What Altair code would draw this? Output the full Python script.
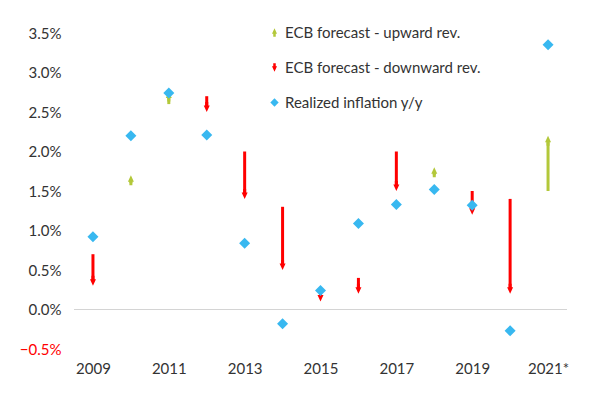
import altair as alt
import pandas as pd

years = ["2009", "2010", "2011", "2012", "2013", "2014", "2015",
         "2016", "2017", "2018", "2019", "2020", "2021*"]
realized = [0.92, 2.20, 2.74, 2.21, 0.84, -0.18, 0.24, 1.09, 1.33, 1.52, 1.32, -0.27, 3.35]
forecast_old = [0.70, 1.60, 2.60, 2.70, 2.00, 1.30, 0.25, 0.40, 2.00, 1.70, 1.50, 1.40, 1.50]
forecast_new = [0.30, 1.70, 2.76, 2.50, 1.40, 0.50, 0.10, 0.20, 1.50, 1.80, 1.20, 0.20, 2.20]
y_ticks = [-0.5, 0.0, 0.5, 1.0, 1.5, 2.0, 2.5, 3.0, 3.5]

UP = "ECB forecast - upward rev."
DOWN = "ECB forecast - downward rev."
REAL = "Realized inflation y/y"
series = [UP, DOWN, REAL]

GREEN = "#b3c83a"
RED = "#ff0000"
BLUE = "#38b8f0"

# arrow symbols: shaft + head, tip at +/-1
UP_PATH = "M0,-1L0.6,0.3L0.3,0.3L0.3,1L-0.3,1L-0.3,0.3L-0.6,0.3Z"
DOWN_PATH = "M0,1L0.6,-0.3L0.3,-0.3L0.3,-1L-0.3,-1L-0.3,-0.3L-0.6,-0.3Z"

rev = pd.DataFrame({"year": years, "start": forecast_old, "end": forecast_new})
rev["series"] = [UP if e > s else DOWN for s, e in zip(forecast_old, forecast_new)]
real = pd.DataFrame({"year": years, "value": realized, "series": REAL})
zero = pd.DataFrame({"y": [0.0]})

FONT = "Lato"
x = alt.X(
    "year:O", sort=years, title=None,
    scale=alt.Scale(type="point", domain=years, padding=0.5),
    axis=alt.Axis(values=years[::2], labelAngle=0, domain=False, ticks=False,
                  labelPadding=12, labelFontSize=15, labelColor="#333333", labelFont=FONT),
)
yscale = alt.Scale(domain=[-0.5, 3.5], nice=False, zero=False)
yaxis = alt.Axis(
    values=y_ticks,
    labelExpr="format(datum.value, '.1f') + '%'",
    domain=False, ticks=False, grid=False, labelPadding=13,
    labelFontSize=15, labelFont=FONT, labelOverlap=False,
    labelColor={"condition": {"test": "datum.value < 0", "value": RED}, "value": "#333333"},
)


def ycol(field):
    return alt.Y(field, scale=yscale, axis=yaxis, title=None)


color = alt.Color("series:N", title=None, scale=alt.Scale(domain=series, range=[GREEN, RED, BLUE]))
shape = alt.Shape("series:N", title=None,
                  scale=alt.Scale(domain=series, range=[UP_PATH, DOWN_PATH, "diamond"]))

zero_line = alt.Chart(zero).mark_rule(color="#d4d4d4", strokeWidth=1).encode(y=ycol("y:Q"))

up = alt.Chart(rev).transform_filter("datum.end > datum.start")
down = alt.Chart(rev).transform_filter("datum.end < datum.start")

up_shaft = up.mark_rule(strokeWidth=3, color=GREEN, y2Offset=5).encode(
    x=x, y=ycol("start:Q"), y2="end:Q")
down_shaft = down.mark_rule(strokeWidth=3, color=RED, y2Offset=-5).encode(
    x=x, y=ycol("start:Q"), y2="end:Q")

up_head = up.mark_point(filled=True, opacity=1, size=100, yOffset=5).encode(
    x=x, y=ycol("end:Q"), color=color, shape=shape)
down_head = down.mark_point(filled=True, opacity=1, size=100, yOffset=-5).encode(
    x=x, y=ycol("end:Q"), color=color, shape=shape)

dots = alt.Chart(real).mark_point(filled=True, opacity=1, size=121).encode(
    x=x, y=ycol("value:Q"), color=color, shape=shape)

chart = alt.layer(zero_line, up_shaft, down_shaft, up_head, down_head, dots).properties(
    width=493, height=316, autosize="none",
    padding={"left": 66, "top": 25, "right": 17, "bottom": 35},
).configure_view(stroke=None).configure_axis(
    labelOverlap=False, labelBound=False, labelFlush=False,
).configure_legend(
    orient="none", legendX=193, legendY=-8, padding=0,
    labelFont=FONT, labelFontSize=15, labelColor="#333333", labelLimit=400,
    symbolSize=70, rowPadding=19, labelOffset=3, symbolStrokeWidth=0,
)

chart.save("out.html", embed_options={"renderer": "svg", "actions": False})
